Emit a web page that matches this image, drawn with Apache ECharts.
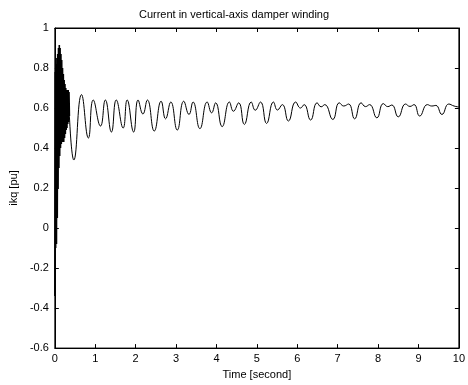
<!DOCTYPE html>
<html>
<head>
<meta charset="utf-8">
<script src="https://cdn.jsdelivr.net/npm/echarts@6/dist/echarts.min.js"></script>
<style>
html,body{margin:0;padding:0;background:#fff;}
#c{width:468px;height:385px;}
</style>
</head>
<body>
<div id="c"></div>
<script>
// Initial fast transient (dense oscillation)
var denseTime = [0.00,0.01,0.02,0.03,0.04,0.05,0.06,0.07,0.08,0.09,0.10,0.11,0.12,0.13,0.14,0.15,0.16,0.17,0.18,0.19,0.20,0.21,0.22,0.23,0.24,0.25,0.26,0.27,0.28,0.29,0.30,0.31,0.32,0.33,0.34,0.35,0.36];
var denseValue = [-0.34,0.78,-0.10,0.82,-0.08,0.85,0.05,0.87,0.20,0.90,0.30,0.915,0.36,0.90,0.40,0.87,0.42,0.84,0.43,0.80,0.43,0.77,0.43,0.74,0.45,0.72,0.47,0.70,0.49,0.69,0.50,0.69,0.52,0.69,0.53,0.68,0.56];
// Slow oscillation (extrema)
var mainTime = [0.36,0.47,0.66,0.83,0.95,1.13,1.25,1.40,1.52,1.69,1.79,1.95,2.06,2.18,2.29,2.46,2.63,2.74,2.87,3.03,3.19,3.32,3.42,3.59,3.77,3.88,3.98,4.14,4.32,4.42,4.55,4.69,4.86,4.96,5.09,5.24,5.41,5.51,5.63,5.78,5.96,6.08,6.17,6.33,6.49,6.59,6.68,6.88,7.04,7.15,7.27,7.42,7.58,7.69,7.79,7.97,8.13,8.24,8.34,8.50,8.68,8.79,8.89,9.03,9.22,9.33,9.43,9.58,9.75,9.88,10.0];
var mainValue = [0.56,0.34,0.667,0.45,0.64,0.51,0.64,0.48,0.64,0.50,0.64,0.48,0.64,0.57,0.64,0.485,0.634,0.546,0.63,0.49,0.634,0.568,0.63,0.497,0.63,0.576,0.626,0.507,0.63,0.584,0.626,0.518,0.63,0.589,0.63,0.523,0.63,0.59,0.617,0.535,0.63,0.60,0.617,0.54,0.626,0.606,0.617,0.543,0.626,0.61,0.62,0.546,0.626,0.607,0.617,0.551,0.622,0.607,0.615,0.556,0.62,0.608,0.617,0.56,0.617,0.61,0.613,0.568,0.62,0.61,0.605];
var xTicks = [0,1,2,3,4,5,6,7,8,9,10];
var yTicks = [-0.6,-0.4,-0.2,0,0.2,0.4,0.6,0.8,1];

var titleText = 'Current in vertical-axis damper winding';
var xName = 'Time [second]';
var yName = 'ikq [pu]';

function pairs(xs, ys){ return xs.map(function(x,i){ return [x, ys[i]]; }); }

var font = 'Liberation Sans, Arial, sans-serif';
var chart = echarts.init(document.getElementById('c'), null, {renderer:'canvas'});
var tickStyle = {show:true, inside:true, length:4, lineStyle:{color:'#000', width:1}};
var lineStyleAx = {show:true, onZero:false, lineStyle:{color:'#000', width:1}};
chart.setOption({
  animation:false,
  backgroundColor:'#fff',
  title:{text:titleText, left:'center', top:4, textStyle:{fontFamily:font, fontSize:11, fontWeight:'normal', color:'#000'}},
  grid:{left:54, right:7, top:28, bottom:35, show:true, borderColor:'#000', borderWidth:1, backgroundColor:'transparent'},
  xAxis:[{
    type:'value', min:xTicks[0], max:xTicks[xTicks.length-1], interval:1, position:'bottom',
    name:xName, nameLocation:'middle', nameGap:18,
    nameTextStyle:{fontFamily:font, fontSize:11, color:'#000'},
    axisLine:lineStyleAx,
    axisTick:tickStyle, splitLine:{show:false},
    axisLabel:{fontFamily:font, fontSize:11, color:'#000', margin:5}
  },{
    type:'value', min:xTicks[0], max:xTicks[xTicks.length-1], interval:1, position:'top',
    axisLine:lineStyleAx,
    axisTick:tickStyle, splitLine:{show:false}, axisLabel:{show:false}
  }],
  yAxis:[{
    type:'value', min:yTicks[0], max:yTicks[yTicks.length-1], interval:0.2, position:'left',
    name:yName, nameLocation:'middle', nameGap:32, nameRotate:90,
    nameTextStyle:{fontFamily:font, fontSize:11, color:'#000'},
    axisLine:lineStyleAx,
    axisTick:tickStyle, splitLine:{show:false},
    axisLabel:{fontFamily:font, fontSize:11, color:'#000', margin:6,
      formatter:function(v){ return String(Math.round(v*10)/10); }}
  },{
    type:'value', min:yTicks[0], max:yTicks[yTicks.length-1], interval:0.2, position:'right',
    axisLine:lineStyleAx,
    axisTick:tickStyle, splitLine:{show:false}, axisLabel:{show:false}
  }],
  series:[{
    type:'line', data:pairs(denseTime, denseValue), showSymbol:false, smooth:false,
    lineStyle:{color:'#000', width:1.6}, z:3
  },{
    type:'line', data:pairs(mainTime, mainValue), showSymbol:false, smooth:0.5,
    lineStyle:{color:'#000', width:1}, z:3
  }]
});
</script>
</body>
</html>
